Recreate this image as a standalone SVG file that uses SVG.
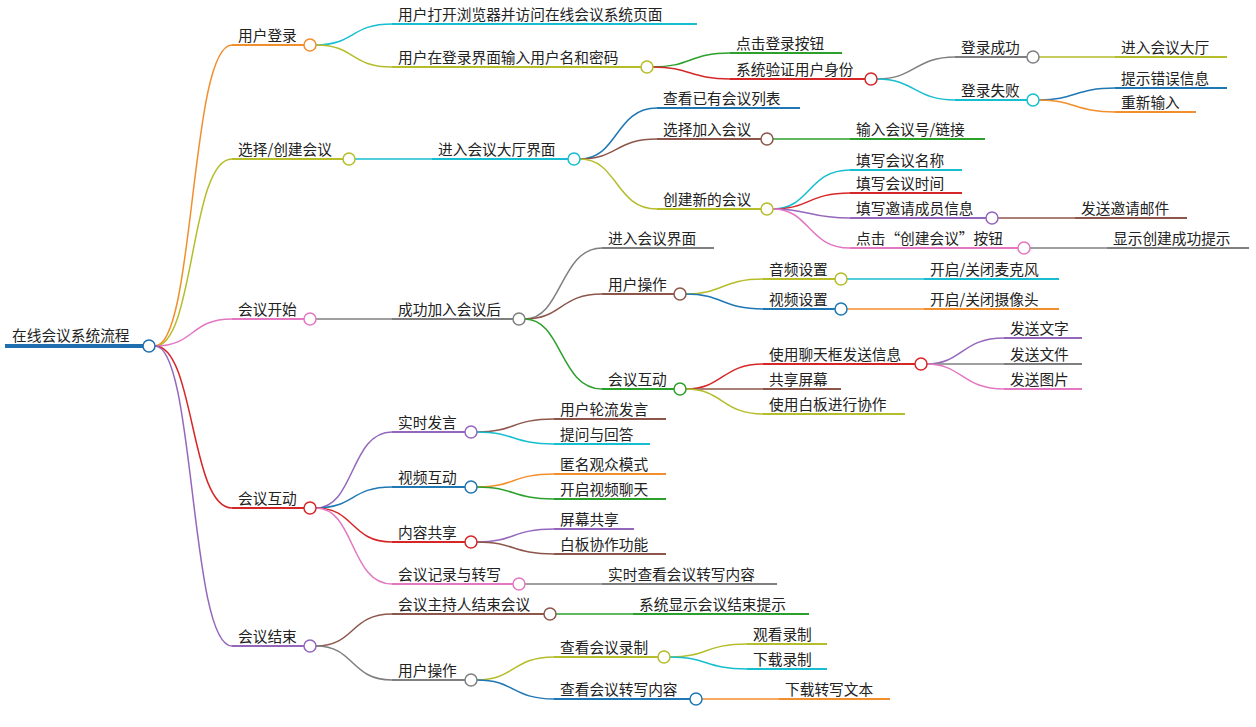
<svg xmlns="http://www.w3.org/2000/svg" width="1256" height="727" viewBox="0 0 1256 727">
<style>
text{font-family:"Noto Sans CJK SC","Noto Sans",sans-serif;font-size:14.7px;fill:#222}
.u{stroke-width:2;fill:none}
.c{fill:#fff;stroke-width:1.5}
#conn path{fill:none;stroke-width:1.5}
</style>
<rect width="1256" height="727" fill="#fff"/>
<g id="conn">
<path d="M155,346 C195,346 190,45 232,45" stroke="#f28e2b"/>
<path d="M155,346 C195,346 190,159 232,159" stroke="#b5bd2a"/>
<path d="M155,346 C195,346 190,319 232,319" stroke="#e377c2"/>
<path d="M155,346 C195,346 190,508 232,508" stroke="#d62728"/>
<path d="M155,346 C195,346 190,646 232,646" stroke="#9467bd"/>
<path d="M316,45 C355,45 350,24 392,24" stroke="#17becf"/>
<path d="M316,45 C355,45 350,67 392,67" stroke="#b5bd2a"/>
<path d="M653,67 C690,67 690,53 730,53" stroke="#2ca02c"/>
<path d="M653,67 C690,67 690,79 730,79" stroke="#d62728"/>
<path d="M877,79 C915,79 915,57 955,57" stroke="#7f7f7f"/>
<path d="M877,79 C915,79 915,100 955,100" stroke="#17becf"/>
<path d="M1039,57 L1115,57" stroke="#b5bd2a"/>
<path d="M1039,100 C1075,100 1075,88 1115,88" stroke="#1f77b4"/>
<path d="M1039,100 C1075,100 1075,112 1115,112" stroke="#f28e2b"/>
<path d="M355,159 L432,159" stroke="#17becf"/>
<path d="M580,159 C618,159 615,108 657,108" stroke="#1f77b4"/>
<path d="M580,159 C618,159 615,139 657,139" stroke="#8c564b"/>
<path d="M580,159 C618,159 615,209 657,209" stroke="#b5bd2a"/>
<path d="M773,139 L850,139" stroke="#2ca02c"/>
<path d="M773,209 C810,209 808,170 850,170" stroke="#17becf"/>
<path d="M773,209 C810,209 808,193 850,193" stroke="#d62728"/>
<path d="M773,209 C810,209 808,218 850,218" stroke="#9467bd"/>
<path d="M773,209 C810,209 808,248 850,248" stroke="#e377c2"/>
<path d="M998,218 L1075,218" stroke="#8c564b"/>
<path d="M1030,248 L1107,248" stroke="#7f7f7f"/>
<path d="M316,319 L392,319" stroke="#7f7f7f"/>
<path d="M525,319 C562,319 560,248 602,248" stroke="#7f7f7f"/>
<path d="M525,319 C562,319 560,294 602,294" stroke="#8c564b"/>
<path d="M525,319 C562,319 560,389 602,389" stroke="#2ca02c"/>
<path d="M686,294 C723,294 722,279 763,279" stroke="#b5bd2a"/>
<path d="M686,294 C723,294 722,309 763,309" stroke="#1f77b4"/>
<path d="M847,279 L924,279" stroke="#17becf"/>
<path d="M847,309 L924,309" stroke="#f28e2b"/>
<path d="M686,389 C723,389 722,364 763,364" stroke="#d62728"/>
<path d="M686,389 C723,389 722,389 763,389" stroke="#8c564b"/>
<path d="M686,389 C723,389 722,414 763,414" stroke="#b5bd2a"/>
<path d="M927,364 C962,364 962,338 1004,338" stroke="#9467bd"/>
<path d="M927,364 L1004,364" stroke="#7f7f7f"/>
<path d="M927,364 C962,364 962,389 1004,389" stroke="#e377c2"/>
<path d="M316,508 C355,508 350,432 392,432" stroke="#9467bd"/>
<path d="M316,508 C355,508 350,487 392,487" stroke="#1f77b4"/>
<path d="M316,508 C355,508 350,542 392,542" stroke="#d62728"/>
<path d="M316,508 C355,508 350,584 392,584" stroke="#e377c2"/>
<path d="M477,432 C515,432 512,419 554,419" stroke="#8c564b"/>
<path d="M477,432 C515,432 512,444 554,444" stroke="#17becf"/>
<path d="M477,487 C515,487 512,474 554,474" stroke="#f28e2b"/>
<path d="M477,487 C515,487 512,499 554,499" stroke="#2ca02c"/>
<path d="M477,542 C515,542 512,529 554,529" stroke="#9467bd"/>
<path d="M477,542 C515,542 512,554 554,554" stroke="#8c564b"/>
<path d="M525,584 L602,584" stroke="#7f7f7f"/>
<path d="M316,646 C355,646 350,614 392,614" stroke="#8c564b"/>
<path d="M316,646 C355,646 350,680 392,680" stroke="#7f7f7f"/>
<path d="M556,614 L633,614" stroke="#2ca02c"/>
<path d="M477,680 C515,680 512,657 554,657" stroke="#b5bd2a"/>
<path d="M477,680 C515,680 512,699 554,699" stroke="#1f77b4"/>
<path d="M670,657 C708,657 705,644 747,644" stroke="#b5bd2a"/>
<path d="M670,657 C708,657 705,669 747,669" stroke="#17becf"/>
<path d="M702,699 L779,699" stroke="#f28e2b"/>
</g>
<g id="root"><line x1="5" y1="346" x2="143" y2="346" stroke="#1f6fb0" stroke-width="4"/><text x="12" y="341" font-size="15.5">在线会议系统流程</text><circle class="c" cx="149" cy="346" r="6" stroke="#1f6fb0"/></g>
<g id="n1"><line class="u" x1="232" y1="45" x2="304" y2="45" stroke="#f28e2b"/><text x="238" y="41">用户登录</text><circle class="c" cx="310" cy="45" r="6" stroke="#f28e2b"/></g>
<g id="n2"><line class="u" x1="392" y1="24" x2="697" y2="24" stroke="#17becf"/><text x="398" y="20">用户打开浏览器并访问在线会议系统页面</text></g>
<g id="n3"><line class="u" x1="392" y1="67" x2="641" y2="67" stroke="#b5bd2a"/><text x="398" y="63">用户在登录界面输入用户名和密码</text><circle class="c" cx="647" cy="67" r="6" stroke="#b5bd2a"/></g>
<g id="n4"><line class="u" x1="730" y1="53" x2="842" y2="53" stroke="#2ca02c"/><text x="736" y="49">点击登录按钮</text></g>
<g id="n5"><line class="u" x1="730" y1="79" x2="865" y2="79" stroke="#d62728"/><text x="736" y="75">系统验证用户身份</text><circle class="c" cx="871" cy="79" r="6" stroke="#d62728"/></g>
<g id="n6"><line class="u" x1="955" y1="57" x2="1027" y2="57" stroke="#7f7f7f"/><text x="961" y="53">登录成功</text><circle class="c" cx="1033" cy="57" r="6" stroke="#7f7f7f"/></g>
<g id="n7"><line class="u" x1="1115" y1="57" x2="1227" y2="57" stroke="#b5bd2a"/><text x="1121" y="53">进入会议大厅</text></g>
<g id="n8"><line class="u" x1="955" y1="100" x2="1027" y2="100" stroke="#17becf"/><text x="961" y="96">登录失败</text><circle class="c" cx="1033" cy="100" r="6" stroke="#17becf"/></g>
<g id="n9"><line class="u" x1="1115" y1="88" x2="1227" y2="88" stroke="#1f77b4"/><text x="1121" y="84">提示错误信息</text></g>
<g id="n10"><line class="u" x1="1115" y1="112" x2="1196" y2="112" stroke="#f28e2b"/><text x="1121" y="108">重新输入</text></g>
<g id="n11"><line class="u" x1="232" y1="159" x2="343" y2="159" stroke="#b5bd2a"/><text x="238" y="155">选择/创建会议</text><circle class="c" cx="349" cy="159" r="6" stroke="#b5bd2a"/></g>
<g id="n12"><line class="u" x1="432" y1="159" x2="568" y2="159" stroke="#17becf"/><text x="438" y="155">进入会议大厅界面</text><circle class="c" cx="574" cy="159" r="6" stroke="#17becf"/></g>
<g id="n13"><line class="u" x1="657" y1="108" x2="800" y2="108" stroke="#1f77b4"/><text x="663" y="104">查看已有会议列表</text></g>
<g id="n14"><line class="u" x1="657" y1="139" x2="761" y2="139" stroke="#8c564b"/><text x="663" y="135">选择加入会议</text><circle class="c" cx="767" cy="139" r="6" stroke="#8c564b"/></g>
<g id="n15"><line class="u" x1="850" y1="139" x2="985" y2="139" stroke="#2ca02c"/><text x="856" y="135">输入会议号/链接</text></g>
<g id="n16"><line class="u" x1="657" y1="209" x2="761" y2="209" stroke="#b5bd2a"/><text x="663" y="205">创建新的会议</text><circle class="c" cx="767" cy="209" r="6" stroke="#b5bd2a"/></g>
<g id="n17"><line class="u" x1="850" y1="170" x2="962" y2="170" stroke="#17becf"/><text x="856" y="166">填写会议名称</text></g>
<g id="n18"><line class="u" x1="850" y1="193" x2="962" y2="193" stroke="#d62728"/><text x="856" y="189">填写会议时间</text></g>
<g id="n19"><line class="u" x1="850" y1="218" x2="986" y2="218" stroke="#9467bd"/><text x="856" y="214">填写邀请成员信息</text><circle class="c" cx="992" cy="218" r="6" stroke="#9467bd"/></g>
<g id="n20"><line class="u" x1="1075" y1="218" x2="1187" y2="218" stroke="#8c564b"/><text x="1081" y="214">发送邀请邮件</text></g>
<g id="n21"><line class="u" x1="850" y1="248" x2="1018" y2="248" stroke="#e377c2"/><text x="856" y="244">点击“创建会议”按钮</text><circle class="c" cx="1024" cy="248" r="6" stroke="#e377c2"/></g>
<g id="n22"><line class="u" x1="1107" y1="248" x2="1249" y2="248" stroke="#7f7f7f"/><text x="1113" y="244">显示创建成功提示</text></g>
<g id="n23"><line class="u" x1="232" y1="319" x2="304" y2="319" stroke="#e377c2"/><text x="238" y="315">会议开始</text><circle class="c" cx="310" cy="319" r="6" stroke="#e377c2"/></g>
<g id="n24"><line class="u" x1="392" y1="319" x2="513" y2="319" stroke="#7f7f7f"/><text x="398" y="315">成功加入会议后</text><circle class="c" cx="519" cy="319" r="6" stroke="#7f7f7f"/></g>
<g id="n25"><line class="u" x1="602" y1="248" x2="714" y2="248" stroke="#7f7f7f"/><text x="608" y="244">进入会议界面</text></g>
<g id="n26"><line class="u" x1="602" y1="294" x2="674" y2="294" stroke="#8c564b"/><text x="608" y="290">用户操作</text><circle class="c" cx="680" cy="294" r="6" stroke="#8c564b"/></g>
<g id="n27"><line class="u" x1="763" y1="279" x2="835" y2="279" stroke="#b5bd2a"/><text x="769" y="275">音频设置</text><circle class="c" cx="841" cy="279" r="6" stroke="#b5bd2a"/></g>
<g id="n28"><line class="u" x1="924" y1="279" x2="1059" y2="279" stroke="#17becf"/><text x="930" y="275">开启/关闭麦克风</text></g>
<g id="n29"><line class="u" x1="763" y1="309" x2="835" y2="309" stroke="#1f77b4"/><text x="769" y="305">视频设置</text><circle class="c" cx="841" cy="309" r="6" stroke="#1f77b4"/></g>
<g id="n30"><line class="u" x1="924" y1="309" x2="1059" y2="309" stroke="#f28e2b"/><text x="930" y="305">开启/关闭摄像头</text></g>
<g id="n31"><line class="u" x1="602" y1="389" x2="674" y2="389" stroke="#2ca02c"/><text x="608" y="385">会议互动</text><circle class="c" cx="680" cy="389" r="6" stroke="#2ca02c"/></g>
<g id="n32"><line class="u" x1="763" y1="364" x2="915" y2="364" stroke="#d62728"/><text x="769" y="360">使用聊天框发送信息</text><circle class="c" cx="921" cy="364" r="6" stroke="#d62728"/></g>
<g id="n33"><line class="u" x1="1004" y1="338" x2="1082" y2="338" stroke="#9467bd"/><text x="1010" y="334">发送文字</text></g>
<g id="n34"><line class="u" x1="1004" y1="364" x2="1082" y2="364" stroke="#7f7f7f"/><text x="1010" y="360">发送文件</text></g>
<g id="n35"><line class="u" x1="1004" y1="389" x2="1082" y2="389" stroke="#e377c2"/><text x="1010" y="385">发送图片</text></g>
<g id="n36"><line class="u" x1="763" y1="389" x2="841" y2="389" stroke="#8c564b"/><text x="769" y="385">共享屏幕</text></g>
<g id="n37"><line class="u" x1="763" y1="414" x2="905" y2="414" stroke="#b5bd2a"/><text x="769" y="410">使用白板进行协作</text></g>
<g id="n38"><line class="u" x1="232" y1="508" x2="304" y2="508" stroke="#d62728"/><text x="238" y="504">会议互动</text><circle class="c" cx="310" cy="508" r="6" stroke="#d62728"/></g>
<g id="n39"><line class="u" x1="392" y1="432" x2="465" y2="432" stroke="#9467bd"/><text x="398" y="428">实时发言</text><circle class="c" cx="471" cy="432" r="6" stroke="#9467bd"/></g>
<g id="n40"><line class="u" x1="554" y1="419" x2="666" y2="419" stroke="#8c564b"/><text x="560" y="415">用户轮流发言</text></g>
<g id="n41"><line class="u" x1="554" y1="444" x2="650" y2="444" stroke="#17becf"/><text x="560" y="440">提问与回答</text></g>
<g id="n42"><line class="u" x1="392" y1="487" x2="465" y2="487" stroke="#1f77b4"/><text x="398" y="483">视频互动</text><circle class="c" cx="471" cy="487" r="6" stroke="#1f77b4"/></g>
<g id="n43"><line class="u" x1="554" y1="474" x2="666" y2="474" stroke="#f28e2b"/><text x="560" y="470">匿名观众模式</text></g>
<g id="n44"><line class="u" x1="554" y1="499" x2="666" y2="499" stroke="#2ca02c"/><text x="560" y="495">开启视频聊天</text></g>
<g id="n45"><line class="u" x1="392" y1="542" x2="465" y2="542" stroke="#d62728"/><text x="398" y="538">内容共享</text><circle class="c" cx="471" cy="542" r="6" stroke="#d62728"/></g>
<g id="n46"><line class="u" x1="554" y1="529" x2="634" y2="529" stroke="#9467bd"/><text x="560" y="525">屏幕共享</text></g>
<g id="n47"><line class="u" x1="554" y1="554" x2="666" y2="554" stroke="#8c564b"/><text x="560" y="550">白板协作功能</text></g>
<g id="n48"><line class="u" x1="392" y1="584" x2="513" y2="584" stroke="#e377c2"/><text x="398" y="580">会议记录与转写</text><circle class="c" cx="519" cy="584" r="6" stroke="#e377c2"/></g>
<g id="n49"><line class="u" x1="602" y1="584" x2="777" y2="584" stroke="#7f7f7f"/><text x="608" y="580">实时查看会议转写内容</text></g>
<g id="n50"><line class="u" x1="232" y1="646" x2="304" y2="646" stroke="#9467bd"/><text x="238" y="642">会议结束</text><circle class="c" cx="310" cy="646" r="6" stroke="#9467bd"/></g>
<g id="n51"><line class="u" x1="392" y1="614" x2="544" y2="614" stroke="#8c564b"/><text x="398" y="610">会议主持人结束会议</text><circle class="c" cx="550" cy="614" r="6" stroke="#8c564b"/></g>
<g id="n52"><line class="u" x1="633" y1="614" x2="809" y2="614" stroke="#2ca02c"/><text x="639" y="610">系统显示会议结束提示</text></g>
<g id="n53"><line class="u" x1="392" y1="680" x2="465" y2="680" stroke="#7f7f7f"/><text x="398" y="676">用户操作</text><circle class="c" cx="471" cy="680" r="6" stroke="#7f7f7f"/></g>
<g id="n54"><line class="u" x1="554" y1="657" x2="658" y2="657" stroke="#b5bd2a"/><text x="560" y="653">查看会议录制</text><circle class="c" cx="664" cy="657" r="6" stroke="#b5bd2a"/></g>
<g id="n55"><line class="u" x1="747" y1="644" x2="827" y2="644" stroke="#b5bd2a"/><text x="753" y="640">观看录制</text></g>
<g id="n56"><line class="u" x1="747" y1="669" x2="827" y2="669" stroke="#17becf"/><text x="753" y="665">下载录制</text></g>
<g id="n57"><line class="u" x1="554" y1="699" x2="690" y2="699" stroke="#1f77b4"/><text x="560" y="695">查看会议转写内容</text><circle class="c" cx="696" cy="699" r="6" stroke="#1f77b4"/></g>
<g id="n58"><line class="u" x1="779" y1="699" x2="890" y2="699" stroke="#f28e2b"/><text x="785" y="695">下载转写文本</text></g>
</svg>
